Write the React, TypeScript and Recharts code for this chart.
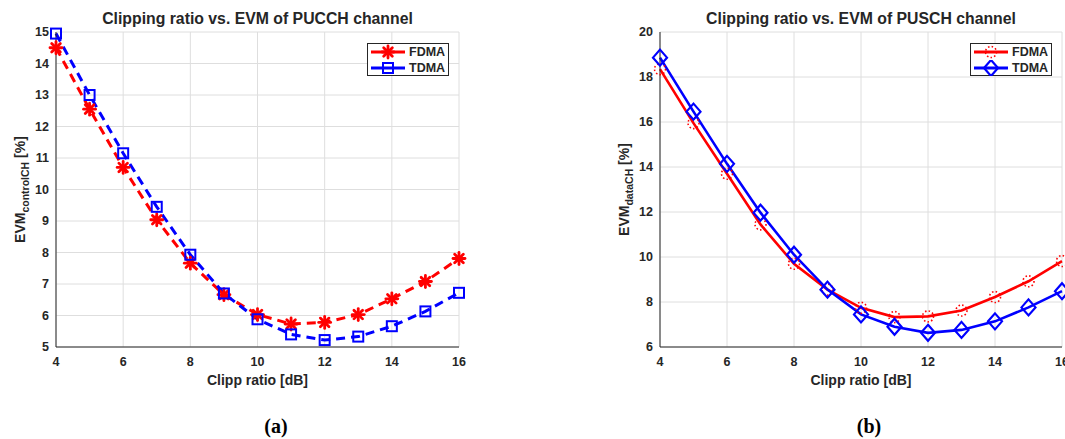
import React from "react";
import {
  LineChart,
  Line,
  XAxis,
  YAxis,
  CartesianGrid,
  Legend,
  Label
} from "recharts";

const clipRatio = [4, 5, 6, 7, 8, 9, 10, 11, 12, 13, 14, 15, 16];

const pucchFdma = [14.5, 12.55, 10.7, 9.04, 7.66, 6.66, 6.03, 5.73, 5.78, 6.03, 6.53, 7.08, 7.81];
const pucchTdma = [14.95, 13.0, 11.15, 9.45, 7.93, 6.7, 5.88, 5.4, 5.22, 5.33, 5.66, 6.13, 6.72];

const puschFdma = [18.35, 15.95, 13.7, 11.45, 9.7, 8.55, 7.74, 7.33, 7.36, 7.62, 8.22, 8.92, 9.82];
const puschTdma = [18.86, 16.46, 14.14, 11.97, 10.1, 8.55, 7.45, 6.9, 6.63, 6.76, 7.14, 7.76, 8.48];

const xTicks = [4, 6, 8, 10, 12, 14, 16];
const pucchYTicks = [5, 6, 7, 8, 9, 10, 11, 12, 13, 14, 15];
const puschYTicks = [6, 8, 10, 12, 14, 16, 18, 20];

const RED = "#ff0000";
const BLUE = "#0000ff";
const TEXT = "#262626";
const FONT = "'Liberation Sans', Arial, sans-serif";

const pucchData = clipRatio.map((x, i) => ({ x, fdma: pucchFdma[i], tdma: pucchTdma[i] }));
const puschData = clipRatio.map((x, i) => ({ x, fdma: puschFdma[i], tdma: puschTdma[i] }));

// marker shapes, drawn around (cx, cy)
function Asterisk({ cx, cy, r = 6 }: any) {
  const d = r * 0.72;
  return (
    <g stroke={RED} strokeWidth={2.8} strokeLinecap="round">
      <line x1={cx - r} y1={cy} x2={cx + r} y2={cy} />
      <line x1={cx} y1={cy - r} x2={cx} y2={cy + r} />
      <line x1={cx - d} y1={cy - d} x2={cx + d} y2={cy + d} />
      <line x1={cx - d} y1={cy + d} x2={cx + d} y2={cy - d} />
    </g>
  );
}

function Square({ cx, cy, s = 10 }: any) {
  return (
    <rect x={cx - s / 2} y={cy - s / 2} width={s} height={s} fill="none" stroke={BLUE} strokeWidth={2} />
  );
}

function Diamond({ cx, cy, w = 7, h = 8 }: any) {
  return (
    <path
      d={`M${cx},${cy - h} L${cx + w},${cy} L${cx},${cy + h} L${cx - w},${cy} Z`}
      fill="none"
      stroke={BLUE}
      strokeWidth={2.2}
    />
  );
}

function DottedCircle({ cx, cy, r = 5.5 }: any) {
  return (
    <circle cx={cx} cy={cy} r={r} fill="none" stroke={RED} strokeWidth={1.6} strokeDasharray="1.5 2.2" />
  );
}

const dotFn = (Shape: any) => (props: any) => {
  const { cx, cy, index } = props;
  if (cx == null || cy == null) return <g key={index} />;
  return (
    <g key={index}>
      <Shape cx={cx} cy={cy} />
    </g>
  );
};

function LegendBox({ RedMark, BlueMark }: any) {
  const row = (color: string, Mark: any, label: string) => (
    <div style={{ display: "flex", alignItems: "center", height: 16 }}>
      <svg width={40} height={16}>
        <line x1={3} y1={8} x2={37} y2={8} stroke={color} strokeWidth={3} />
        <Mark cx={20} cy={8} />
      </svg>
      <span style={{ fontFamily: FONT, fontWeight: 700, fontSize: 12.5, color: TEXT, marginLeft: 1 }}>{label}</span>
    </div>
  );
  return (
    <div
      style={{
        border: `1px solid ${TEXT}`,
        background: "#fff",
        width: 82,
        height: 33,
        boxSizing: "border-box"
      }}
    >
      {row(RED, RedMark, "FDMA")}
      {row(BLUE, BlueMark, "TDMA")}
    </div>
  );
}

function yLabel(sub: string) {
  return (props: any) => {
    const vb = props.viewBox;
    const cx = vb.x + vb.width - 31;
    const cy = 189.5;
    return (
      <text
        x={cx}
        y={cy}
        transform={`rotate(-90, ${cx}, ${cy})`}
        textAnchor="middle"
        fill={TEXT}
        fontFamily={FONT}
        fontWeight={700}
        fontSize={14}
      >
        <tspan>EVM</tspan>
        <tspan fontSize={10.5} dy={4}>{sub}</tspan>
        <tspan dy={-4}> [%]</tspan>
      </text>
    );
  };
}

const tickStyle = { fill: TEXT, fontSize: 12.5, fontWeight: 700, fontFamily: FONT };

function Panel({ data, yTicks, yDomain, dashed, sub, RedMark, BlueMark, yWidth, width, right }: any) {
  return (
    <LineChart
      width={width}
      height={439}
      data={data}
      margin={{ top: 32, right, bottom: 42, left: 0 }}
      style={{ fontFamily: FONT }}
    >
      <CartesianGrid stroke="#dedede" strokeWidth={1} />
      <XAxis
        dataKey="x"
        type="number"
        domain={[4, 16]}
        ticks={xTicks}
        interval={0}
        height={50}
        stroke={TEXT}
        tickLine={false}
        tick={tickStyle}
        tickMargin={4}
      >
        <Label
          content={(p: any) => (
            <text
              x={p.viewBox.x + p.viewBox.width / 2}
              y={p.viewBox.y + 38}
              textAnchor="middle"
              fill={TEXT}
              fontFamily={FONT}
              fontWeight={700}
              fontSize={14}
            >
              Clipp ratio [dB]
            </text>
          )}
        />
      </XAxis>
      <YAxis
        type="number"
        domain={yDomain}
        ticks={yTicks}
        interval={0}
        width={yWidth}
        stroke={TEXT}
        tickLine={false}
        tick={tickStyle}
        tickMargin={1}
      >
        <Label content={yLabel(sub)} />
      </YAxis>
      <Legend
        layout="vertical"
        align="center"
        verticalAlign="middle"
        wrapperStyle={{ top: 43, left: width - right - 92, width: 82, height: 33 }}
        content={() => <LegendBox RedMark={RedMark} BlueMark={BlueMark} />}
      />
      <Line
        dataKey="fdma"
        name="FDMA"
        stroke={RED}
        strokeWidth={dashed ? 3 : 2.6}
        strokeDasharray={dashed ? "9 6" : undefined}
        dot={dotFn(RedMark)}
        activeDot={false}
        isAnimationActive={false}
      />
      <Line
        dataKey="tdma"
        name="TDMA"
        stroke={BLUE}
        strokeWidth={dashed ? 3 : 2.6}
        strokeDasharray={dashed ? "9 6" : undefined}
        dot={dotFn(BlueMark)}
        activeDot={false}
        isAnimationActive={false}
      />
    </LineChart>
  );
}

const titleStyle: React.CSSProperties = {
  position: "absolute",
  top: 9,
  fontFamily: FONT,
  fontWeight: 700,
  fontSize: 15.8,
  lineHeight: "20px",
  color: TEXT,
  textAlign: "center",
  whiteSpace: "nowrap"
};

const captionStyle: React.CSSProperties = {
  position: "absolute",
  top: 414,
  width: 60,
  fontFamily: "'Liberation Serif', 'Times New Roman', serif",
  fontWeight: 700,
  fontSize: 20,
  lineHeight: "24px",
  color: "#000",
  textAlign: "center"
};

export default function App() {
  return (
    <div
      style={{
        position: "absolute",
        left: 0,
        top: 0,
        width: 1065,
        height: 439,
        background: "#fff",
        overflow: "hidden"
      }}
    >
      <div style={{ position: "absolute", left: 0, top: 0 }}>
        <Panel
          data={pucchData}
          yTicks={pucchYTicks}
          yDomain={[5, 15]}
          dashed
          sub="controlCH"
          RedMark={Asterisk}
          BlueMark={Square}
          yWidth={56}
          width={530}
          right={71}
        />
      </div>
      <div style={{ position: "absolute", left: 560, top: 0 }}>
        <Panel
          data={puschData}
          yTicks={puschYTicks}
          yDomain={[6, 20]}
          dashed={false}
          sub="dataCH"
          RedMark={DottedCircle}
          BlueMark={Diamond}
          yWidth={100}
          width={505}
          right={3}
        />
      </div>
      <div style={{ ...titleStyle, left: 0, width: 515 }}>Clipping ratio vs. EVM of PUCCH channel</div>
      <div style={{ ...titleStyle, left: 560, width: 602 }}>Clipping ratio vs. EVM of PUSCH channel</div>
      <div style={{ ...captionStyle, left: 246 }}>(a)</div>
      <div style={{ ...captionStyle, left: 839 }}>(b)</div>
    </div>
  );
}
